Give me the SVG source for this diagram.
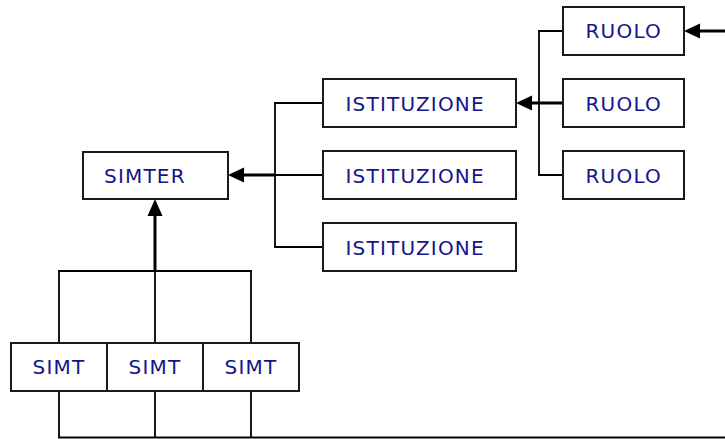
<svg xmlns="http://www.w3.org/2000/svg" width="725" height="439" viewBox="0 0 725 439">
  <style>
    .box { fill: #ffffff; stroke: #1a1a1a; stroke-width: 2; }
    .label { font-family: "DejaVu Sans", Verdana, sans-serif; font-size: 20px; letter-spacing: 1.2px; fill: #14148c; }
    .link { fill: none; stroke: #000000; stroke-width: 1.8; }
    .shaft { fill: none; stroke: #000000; stroke-width: 3; }
    .head { fill: #000000; stroke: none; }
  </style>
  <rect x="0" y="0" width="725" height="439" fill="#ffffff"/>

  <g id="connectors">
    <!-- SIMT boxes joined to SIMTER -->
    <polyline class="link" points="59,343 59,271 251,271 251,343"/>
    <line class="link" x1="155" y1="271" x2="155" y2="343"/>
    <line class="shaft" x1="155" y1="271" x2="155" y2="214"/>
    <polygon class="head" points="155,199 147.5,216 162.5,216"/>

    <!-- SIMT boxes joined below -->
    <polyline class="link" points="59,391 59,437.5 725,437.5"/>
    <line class="link" x1="155" y1="391" x2="155" y2="437.5"/>
    <line class="link" x1="251" y1="391" x2="251" y2="437.5"/>

    <!-- ISTITUZIONE bracket to SIMTER -->
    <polyline class="link" points="323,103 275,103 275,247 323,247"/>
    <line class="link" x1="275" y1="175" x2="323" y2="175"/>
    <line class="shaft" x1="242" y1="175" x2="275" y2="175"/>
    <polygon class="head" points="228,175 244,167.5 244,182.5"/>

    <!-- RUOLO bracket to first ISTITUZIONE -->
    <polyline class="link" points="563,31 539,31 539,175 563,175"/>
    <line class="shaft" x1="530" y1="103" x2="563" y2="103"/>
    <polygon class="head" points="516,103 532,95.5 532,110.5"/>

    <!-- incoming link to first RUOLO -->
    <line class="shaft" x1="698" y1="31" x2="725" y2="31"/>
    <polygon class="head" points="684,31 700,23.5 700,38.5"/>
  </g>

  <g id="simter">
    <rect class="box" x="83" y="152" width="145" height="47"/>
    <text class="label" x="104" y="183">SIMTER</text>
  </g>

  <g id="istituzione-1">
    <rect class="box" x="323" y="79" width="193" height="48"/>
    <text class="label" x="345.5" y="111">ISTITUZIONE</text>
  </g>
  <g id="istituzione-2">
    <rect class="box" x="323" y="151" width="193" height="48"/>
    <text class="label" x="345.5" y="183">ISTITUZIONE</text>
  </g>
  <g id="istituzione-3">
    <rect class="box" x="323" y="223" width="193" height="48"/>
    <text class="label" x="345.5" y="255">ISTITUZIONE</text>
  </g>

  <g id="ruolo-1">
    <rect class="box" x="563" y="7" width="121" height="48"/>
    <text class="label" x="585.5" y="38">RUOLO</text>
  </g>
  <g id="ruolo-2">
    <rect class="box" x="563" y="79" width="121" height="48"/>
    <text class="label" x="585.5" y="111">RUOLO</text>
  </g>
  <g id="ruolo-3">
    <rect class="box" x="563" y="151" width="121" height="48"/>
    <text class="label" x="585.5" y="183">RUOLO</text>
  </g>

  <g id="simt-1">
    <rect class="box" x="11" y="343" width="96" height="48"/>
    <text class="label" x="32.5" y="374">SIMT</text>
  </g>
  <g id="simt-2">
    <rect class="box" x="107" y="343" width="96" height="48"/>
    <text class="label" x="128.5" y="374">SIMT</text>
  </g>
  <g id="simt-3">
    <rect class="box" x="203" y="343" width="96" height="48"/>
    <text class="label" x="224.5" y="374">SIMT</text>
  </g>
</svg>
